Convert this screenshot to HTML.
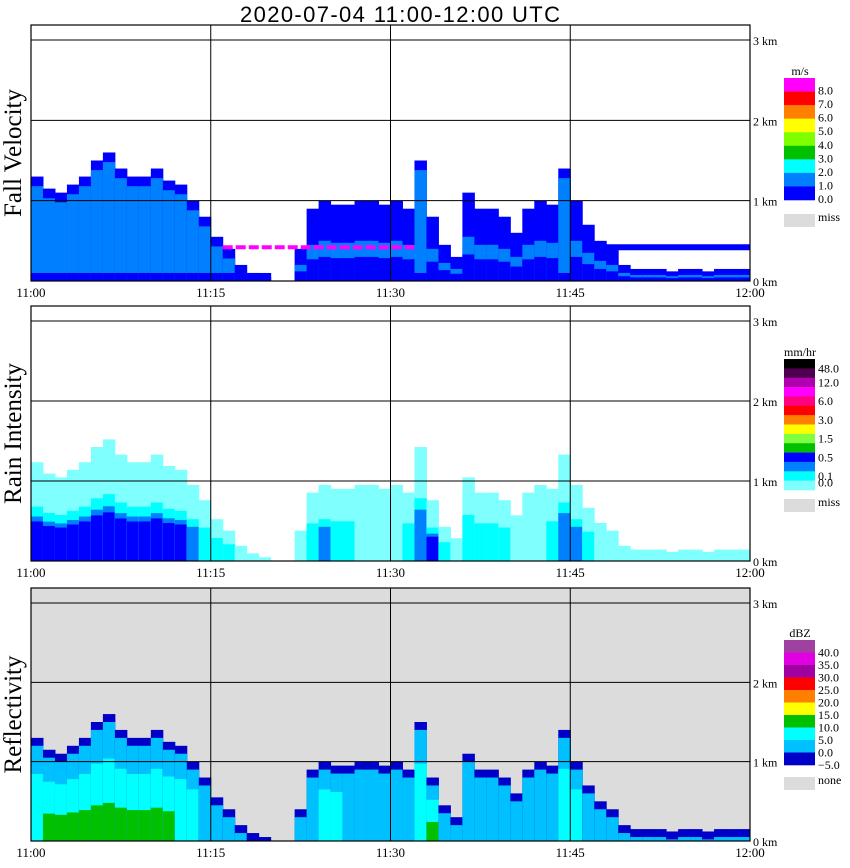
<!DOCTYPE html>
<html><head><meta charset="utf-8">
<style>
body{margin:0;background:#fff;width:850px;height:868px;overflow:hidden}
svg{display:block}
text{font-family:"Liberation Serif",serif;fill:#000}
</style></head>
<body>
<svg id="chart" width="850" height="868" viewBox="0 0 850 868" xmlns="http://www.w3.org/2000/svg">
<text x="400" y="22" text-anchor="middle" font-size="22" textLength="320" style="font-family:'Liberation Sans',sans-serif">2020-07-04   11:00-12:00 UTC</text>
</svg>
<script>
// ---- data (per minute, 11:00 .. 11:59) ----
const minutes = Array.from({length:60},(_,i)=>i);
const echoTop = [1.3,1.15,1.1,1.2,1.3,1.5,1.6,1.4,1.3,1.3,1.4,1.25,1.2,1.0,0.8,0.55,0.4,0.2,0.1,0.05,0,0,0.4,0.9,1.0,0.95,0.95,1.0,1.0,0.95,1.0,0.9,1.5,0.8,0.45,0.3,1.1,0.9,0.9,0.8,0.6,0.9,1.0,0.95,1.4,1.0,0.7,0.5,0.4,0.2,0.15,0.15,0.15,0.12,0.15,0.15,0.12,0.15,0.15,0.15];
const rainLevel = [3,3,3,3,3,3,3,3,3,3,3,3,3,2,1,1,1,0,0,0,0,0,0,1,2,1,1,0,0,0,0,1,2,3,1,0,1,1,1,1,0,0,0,1,2,2,1,0,0,0,0,0,0,0,0,0,0,0,0,0];
const velClass = [2,2,2,2,2,2,2,2,2,2,2,2,2,2,2,2,2,2,2,2,0,0,1,1,1,1,1,1,1,1,1,1,2,1,1,1,1,1,1,1,1,1,1,1,2,1,1,1,1,1,1,1,1,1,1,1,1,1,1,1];
const reflLevel = [2,3,3,3,3,3,3,3,3,3,3,3,2,2,1,1,1,0,0,0,0,0,0,1,2,2,1,1,0,0,0,1,2,3,1,0,1,1,1,1,0,0,0,1,2,2,1,0,0,0,0,0,0,0,0,0,0,0,0,0];
const timeLabels = ["11:00","11:15","11:30","11:45","12:00"];
const kmLabels = ["0 km","1 km","2 km","3 km"];
const velLegend = ["8.0","7.0","6.0","5.0","4.0","3.0","2.0","1.0","0.0"];
const rainLegend = ["48.0","12.0","6.0","3.0","1.5","0.5","0.1","0.0"];
const reflLegend = ["40.0","35.0","30.0","25.0","20.0","15.0","10.0","5.0","0.0","\u22125.0"];

const NS="http://www.w3.org/2000/svg";
const svg=document.getElementById('chart');
const X0=31,X1=750;
const xScale=m=>X0+(X1-X0)*m/60;
function el(tag,attrs,parent){const e=document.createElementNS(NS,tag);for(const k in attrs)e.setAttribute(k,attrs[k]);(parent||svg).appendChild(e);return e;}

const panels=[
 {name:'fall-velocity',title:'Fall Velocity',top:25,y0:281,bg:'#fff'},
 {name:'rain-intensity',title:'Rain Intensity',top:306,y0:561,bg:'#fff'},
 {name:'reflectivity',title:'Reflectivity',top:588,y0:841,bg:'#dcdcdc'}
];
panels.forEach((p,pi)=>{
 const g=el('g',{});
 
 
 const k=(p.y0-p.top-15)/3;
 const yS=v=>p.y0-v*k;
 el('rect',{x:X0,y:p.top,width:X1-X0,height:p.y0-p.top,fill:p.bg},g);
 const cw=(X1-X0)/60+0.5;
 minutes.forEach(m=>{
  const t=echoTop[m]; if(t<=0) return;
  const x=xScale(m);
  const r=(h,c)=>{const e=el('rect',{x:x,y:yS(h),width:cw,height:p.y0-yS(h),fill:c},g);};
  if(pi===0){
   if(velClass[m]===2){r(t,'#0000ff');r(t-0.12,'#0080ff');r(0.1,'#0000ff');}
   else{r(t,'#0000ff');r(t*0.5,'#0080ff');r(t*0.3,'#0000ff');}
  }else if(pi===1){
   const lv=rainLevel[m];const rt=t*0.95;
   r(rt,'#80ffff');
   if(lv>=1)r(rt*0.55,'#00ffff');
   if(lv>=2)r(rt*0.45,'#0080ff');
   if(lv>=3)r(rt*0.4,'#0000ff');
  }else{
   const lv=reflLevel[m];
   r(t,'#0000c8');
   r(t-0.1,'#00c0ff');
   if(lv>=2)r(t*0.65,'#00ffff');
   if(lv>=3)r(t*0.3,'#00c000');
  }
 });
 if(pi===0){
  const l1=el('line',{x1:xScale(16),x2:xScale(32),y1:yS(0.42),y2:yS(0.42),stroke:'#ff00ff','stroke-width':4,'stroke-dasharray':'10 3'},g);
  
  const l2=el('line',{x1:xScale(48),x2:X1,y1:yS(0.42),y2:yS(0.42),stroke:'#0000ff','stroke-width':6},g);
  
 }
 [1,2,3].forEach(v=>el('line',{x1:X0,x2:X1,y1:yS(v),y2:yS(v),stroke:'#000','stroke-width':1},g));
 [15,30,45].forEach(v=>el('line',{x1:xScale(v),x2:xScale(v),y1:p.top,y2:p.y0,stroke:'#000','stroke-width':1},g));
 el('rect',{x:X0,y:p.top,width:X1-X0,height:p.y0-p.top,fill:'none',stroke:'#000','stroke-width':1.2},g);
 kmLabels.forEach((s,i)=>{const t=el('text',{x:753,y:yS(i)+5,'font-size':12},g);t.textContent=s;});
 timeLabels.forEach((s,i)=>{const t=el('text',{x:xScale(i*15),y:p.y0+16,'font-size':13,'text-anchor':'middle'},g);t.textContent=s;});
 const yt=el('text',{x:0,y:0,'font-size':25,'text-anchor':'middle',transform:`translate(21,${(p.top+p.y0)/2}) rotate(-90)`},g);
 yt.textContent=p.title;
});

function legend(colors,labels,unit,y0,y1,missY,missLabel,labelOff){
 const g=el('g',{});
 
 
 const h=(y1-y0)/colors.length;
 const u=el('text',{x:800,y:y0-3,'font-size':12,'text-anchor':'middle'},g);u.textContent=unit;
 colors.forEach((c,i)=>el('rect',{x:784,y:y0+i*h,width:31,height:h+0.3,fill:c},g));
 labels.forEach((s,i)=>{const t=el('text',{x:818,y:y0+labelOff(i,h)+4,'font-size':12},g);t.textContent=s;});
 el('rect',{x:784,y:missY,width:31,height:13,fill:'#dcdcdc'},g);
 const m=el('text',{x:818,y:missY+7,'font-size':12},g);m.textContent=missLabel;
}
legend(['#ff00ff','#ff0000','#ff8000','#ffff00','#80ff00','#00c000','#00ffff','#0080ff','#0000ff'],velLegend,'m/s',78,200,214,'miss',(i,h)=>(i+1)*h-1);
const rainPos=[1,2.5,4.5,6.5,8.5,10.5,12.5,13.2];
legend(['#000000','#500050','#b000b0','#ff00ff','#ff0080','#ff0000','#ff8000','#ffff00','#80ff40','#00c000','#0000ff','#0080ff','#00ffff','#80ffff'],rainLegend,'mm/hr',359,490,499,'miss',(i,h)=>rainPos[i]*h);
legend(['#a040a0','#e000e0','#a000a0','#ff0000','#ff8000','#ffff00','#00c000','#00ffff','#00c0ff','#0000c8'],reflLegend,'dBZ',640,765,777,'none',(i,h)=>(i+1)*h);
</script>
</body></html>
